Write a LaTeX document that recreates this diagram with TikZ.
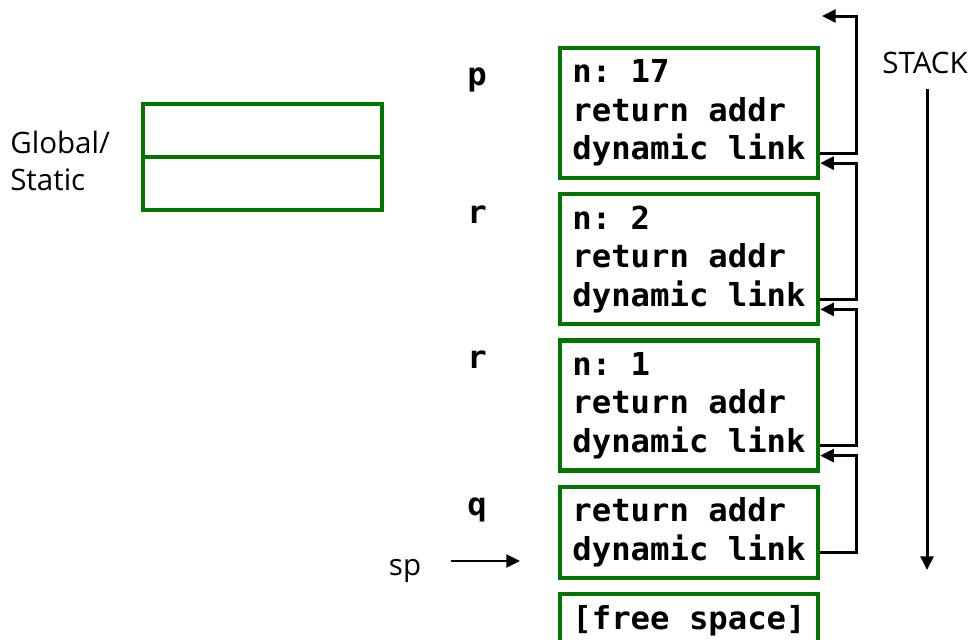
\documentclass[tikz,border=0pt]{standalone}
\usepackage{fontspec}
\setmainfont{Open Sans}
\newfontfamily\codefont{DejaVu Sans Mono}[FakeStretch=1.02]
\usetikzlibrary{arrows.meta, positioning}
\definecolor{framegreen}{RGB}{0,118,0}

\begin{document}
\begin{tikzpicture}[
    x=0.025cm, y=-0.025cm,
    node distance=0.3cm,
    frame/.style={rectangle, draw=framegreen, line width=0.105cm, minimum width=6.45cm,
                  align=left, font=\codefont\bfseries\frenchspacing\fontsize{22.5}{27.5}\selectfont},
    glob/.style={rectangle, draw=framegreen, line width=0.105cm, minimum width=5.975cm,
                 minimum height=1.325cm, outer sep=0pt},
    fname/.style={anchor=base, inner sep=0pt, font=\codefont\bfseries\fontsize{22.5}{27}\selectfont},
    side/.style={anchor=base, inner sep=0pt, font=\fontsize{21}{26.3}\selectfont},
    link/.style={line width=0.075cm, -{Triangle[length=0.34cm, width=0.32cm]}},
]
\useasboundingbox (0,0) rectangle (971,639);

% global / static area
\node[side, align=left, anchor=west] (globlbl) at (10,161) {Global/\\Static};
\node[glob] (g1) at (262.5,130.5) {};
\node[glob, below=0pt of g1] (g2) {};

% activation records
\node[frame, minimum height=3.25cm] (fp) at (689,113) {n: 17\\return addr\\dynamic link};
\node[frame, minimum height=3.25cm, below=of fp] (fr2) {n: 2\\return addr\\dynamic link};
\node[frame, minimum height=3.25cm, below=of fr2] (fr1) {n: 1\\return addr\\dynamic link};
\node[frame, minimum height=2.275cm, below=of fr1] (fq) {return addr\\dynamic link};
\node[frame, minimum height=1.35cm, below=of fq] (free) {[free space]};

\node[fname] (lp) at (477,85) {p};
\node[fname] (lr2) at (477,223) {r};
\node[fname] (lr1) at (477,368) {r};
\node[fname] (lq) at (477,515) {q};

% dynamic links
\coordinate (prevlink) at (822,16);
\draw[link] ([yshift=0.675cm]fp.south east) -- ++(36,0) |- (prevlink);
\draw[link] ([yshift=0.675cm]fr2.south east) -- ++(36,0) |- ([yshift=0.425cm]fp.south east);
\draw[link] ([yshift=0.675cm]fr1.south east) -- ++(36,0) |- ([yshift=0.425cm]fr2.south east);
\draw[link] ([yshift=0.675cm]fq.south east) -- ++(36,0) |- ([yshift=0.425cm]fr1.south east);

% growth direction
\node[side] (stacklbl) at (925,73) {STACK};
\coordinate (stackend) at (927,570);
\draw[link, shorten <=0.375cm] (stacklbl.south -| stackend) -- (stackend);

% stack pointer
\node[side] (sp) at (405,575) {sp};
\coordinate (sptip) at (520,561);
\draw[link, line width=0.065cm, shorten <=0.75cm] (sp.east |- sptip) -- (sptip);

\end{tikzpicture}
\end{document}
